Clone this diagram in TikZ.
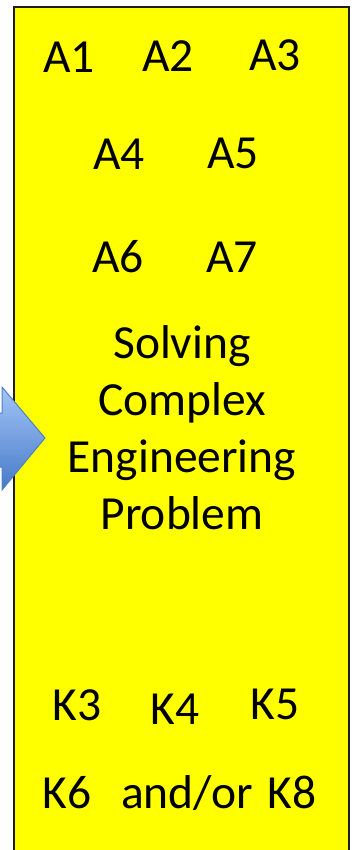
\documentclass[tikz,border=0pt]{standalone}
\usepackage{fontspec}
\setmainfont{Carlito}
\usetikzlibrary{positioning}
\definecolor{panelyellow}{RGB}{255,255,0}
\definecolor{paneledge}{RGB}{30,30,30}
\definecolor{arrowtop}{RGB}{163,197,246}
\definecolor{arrowbottom}{RGB}{70,122,200}
\definecolor{arrowedge}{RGB}{80,128,200}

\begin{document}
\begin{tikzpicture}[x=1pt,y=-1pt]
  \tikzset{
    panel/.style={
      draw=paneledge,
      line width=1.5pt,
      fill=panelyellow
    },
    inarrow/.style={
      draw=arrowedge,
      line width=1pt,
      line join=miter,
      top color=arrowtop,
      bottom color=arrowbottom
    },
    item/.style={
      font=\fontsize{47.5}{57}\selectfont,
      anchor=base,
      inner sep=0pt
    }
  }
  \useasboundingbox (0,0) rectangle (353,850);
  \clip (0,0) rectangle (353,850);

  % Draw the panel
  \draw[panel] (14,7) rectangle (349,870);

  % Draw the incoming arrow
  \draw[inarrow] (-30,413) -- (2,413) -- (2,387) -- (45,438)
    -- (2,490) -- (2,467) -- (-30,467) -- cycle;

  % Attributes
  \node[item] at (69,73) (a1) {A1};
  \node[item] at (168,72) (a2) {A2};
  \node[item] at (275,71) (a3) {A3};
  \node[item] at (119,170) (a4) {A4};
  \node[item] at (233,169) (a5) {A5};
  \node[item] at (118,272) (a6) {A6};
  \node[item] at (232,272) (a7) {A7};

  % Problem title (base is the last line)
  \node[item, align=center] at (182,529) (problem) {
    Solving\\Complex\\Engineering\\Problem
  };

  % Knowledge profiles
  \node[item] at (77,720) (k3) {K3};
  \node[item] at (175,724) (k4) {K4};
  \node[item] at (275,719) (k5) {K5};
  \node[item] at (67,808) (k6) {K6};
  \node[item] at (187,808) (andor) {and/or};
  \node[item] at (292,808) (k8) {K8};

\end{tikzpicture}
\end{document}
